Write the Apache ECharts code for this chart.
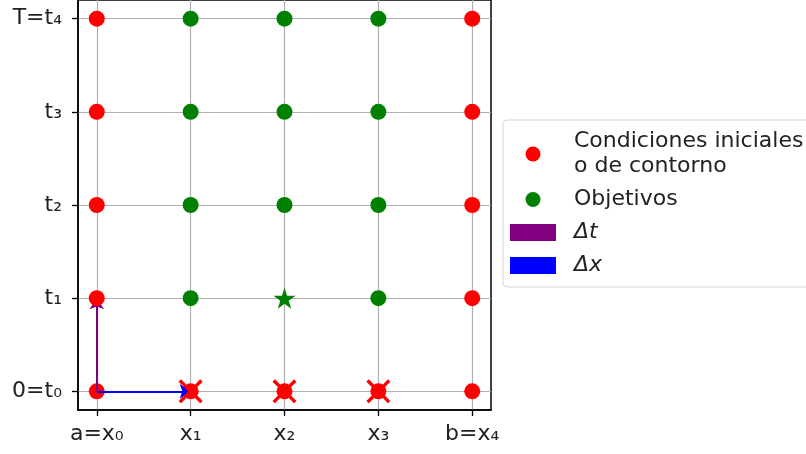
<!DOCTYPE html>
<html>
<head>
<meta charset="utf-8">
<script src="https://cdn.jsdelivr.net/npm/echarts@6/dist/echarts.min.js"></script>
<style>
  html, body { margin: 0; padding: 0; background: #fff; }
  #chart { width: 806px; height: 454px; }
</style>
</head>
<body>
<div id="chart"></div>
<script>
// Mesh nodes of the finite-difference grid (x index, t index)
const xTicks = [0, 1, 2, 3, 4];
const tTicks = [0, 1, 2, 3, 4];
const xLabels = ['a=x\u2080', 'x\u2081', 'x\u2082', 'x\u2083', 'b=x\u2084'];
const tLabels = ['0=t\u2080', 't\u2081', 't\u2082', 't\u2083', 'T=t\u2084'];

// Known values: initial row at t0
const condRowPoints = [[0, 0], [1, 0], [2, 0], [3, 0], [4, 0]];
// Known values: boundary columns at a and b
const condSidePoints = [
  [0, 1], [0, 2], [0, 3], [0, 4],
  [4, 1], [4, 2], [4, 3], [4, 4]
];
// Unknown interior nodes
const objPoints = [
  [1, 1], [3, 1],
  [1, 2], [2, 2], [3, 2],
  [1, 3], [2, 3], [3, 3],
  [1, 4], [2, 4], [3, 4]
];
// Node currently being computed
const starPoint = [[2, 1]];
// Stencil nodes used for it
const crossPoints = [[1, 0], [2, 0], [3, 0]];
// Step arrows
const dtArrow = [[0, 0], [0, 1]];
const dxArrow = [[0, 0], [1, 0]];

const legendNames = {
  cond: 'Condiciones iniciales\no de contorno',
  obj: 'Objetivos',
  dt: '{i|\u0394t}',
  dx: '{i|\u0394x}'
};

const FONT = 'DejaVu Sans';
const STAR = 'path://M50 0 L61.17 34.63 L97.55 34.55 L68.07 55.87 L79.39 90.45 L50 69 L20.61 90.45 L31.93 55.87 L2.45 34.55 L38.83 34.63 Z';
const CROSS = 'path://M0 10 L10 0 L50 40 L90 0 L100 10 L60 50 L100 90 L90 100 L50 60 L10 100 L0 90 L40 50 Z';

const chart = echarts.init(document.getElementById('chart'), null, { renderer: 'canvas' });

const axisCommon = {
  type: 'value',
  min: -0.2,
  max: 4.2,
  axisLine: { show: true, onZero: false, lineStyle: { color: '#000', width: 1.5 } },
  axisTick: { show: true, length: 6, lineStyle: { color: '#000', width: 1.3 } },
  splitLine: { show: true, lineStyle: { color: '#b0b0b0', width: 1.2 } }
};

// Dots on the upper layer sit above the step arrows
const dot = (name, data, color, layer) => ({
  name: name,
  type: 'scatter',
  symbol: 'circle',
  symbolSize: 16,
  itemStyle: { color: color, opacity: 1 },
  data: data,
  zlevel: layer,
  z: 2,
  emphasis: { disabled: true }
});

const arrow = (name, coords, color) => ({
  name: name,
  type: 'lines',
  coordinateSystem: 'cartesian2d',
  symbol: ['none', 'arrow'],
  symbolSize: [9, 11],
  lineStyle: { color: color, width: 2, opacity: 1, curveness: 0 },
  itemStyle: { color: color },
  data: [{ coords: coords }],
  zlevel: 0,
  z: 3,
  silent: true
});

chart.setOption({
  animation: false,
  backgroundColor: '#fff',
  grid: {
    left: 78, right: 315, top: -2, bottom: 44,
    show: true, borderColor: '#000', borderWidth: 1.5, backgroundColor: 'transparent'
  },
  xAxis: Object.assign({}, axisCommon, {
    axisTick: Object.assign({}, axisCommon.axisTick, { customValues: xTicks }),
    axisLabel: {
      customValues: xTicks,
      margin: 13,
      color: '#222',
      fontFamily: FONT,
      fontSize: 22,
      formatter: v => xLabels[xTicks.indexOf(Math.round(v))] || ''
    }
  }),
  yAxis: Object.assign({}, axisCommon, {
    axisTick: Object.assign({}, axisCommon.axisTick, { customValues: tTicks }),
    axisLabel: {
      customValues: tTicks,
      margin: 16,
      color: '#222',
      fontFamily: FONT,
      fontSize: 22,
      formatter: v => tLabels[tTicks.indexOf(Math.round(v))] || ''
    }
  }),
  legend: {
    orient: 'vertical',
    left: 503,
    top: 120,
    padding: [9, 20, 9, 7],
    itemGap: 8,
    itemWidth: 44,
    itemHeight: 15,
    selectedMode: false,
    backgroundColor: '#fff',
    borderColor: '#d5d5d5',
    borderWidth: 1,
    borderRadius: 4,
    textStyle: {
      fontFamily: FONT,
      fontSize: 22,
      lineHeight: 25,
      color: '#222',
      padding: [0, 0, 0, 14],
      rich: {
        i: { fontFamily: FONT, fontSize: 22, fontStyle: 'italic', color: '#222' }
      }
    },
    formatter: name => legendNames[name],
    data: [
      { name: 'cond', icon: 'circle', itemStyle: { color: '#ff0000' } },
      { name: 'obj', icon: 'circle', itemStyle: { color: '#008000' } },
      { name: 'dt', icon: 'rect', itemStyle: { color: '#800080' } },
      { name: 'dx', icon: 'rect', itemStyle: { color: '#0000ff' } }
    ]
  },
  series: [
    dot('cond', condRowPoints, '#ff0000', 0),
    dot('cond', condSidePoints, '#ff0000', 1),
    dot('obj', objPoints, '#008000', 1),
    {
      name: 'star',
      type: 'scatter',
      symbol: STAR,
      symbolKeepAspect: true,
      symbolSize: 22,
      itemStyle: { color: '#008000', opacity: 1 },
      data: starPoint,
      zlevel: 1,
      z: 2,
      emphasis: { disabled: true }
    },
    arrow('dt', dtArrow, '#800080'),
    arrow('dx', dxArrow, '#0000ff'),
    {
      name: 'cross',
      type: 'scatter',
      symbol: CROSS,
      symbolSize: 24,
      itemStyle: { color: '#ff0000', opacity: 1 },
      data: crossPoints,
      zlevel: 1,
      z: 3,
      emphasis: { disabled: true }
    }
  ]
});
</script>
</body>
</html>
